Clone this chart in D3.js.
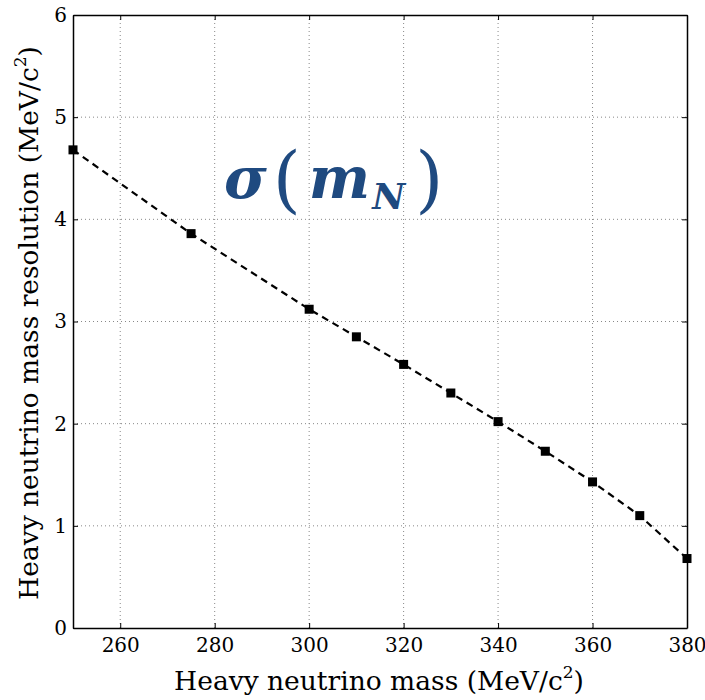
<!DOCTYPE html>
<html><head><meta charset="utf-8">
<script src="https://cdn.jsdelivr.net/npm/d3@7"></script>
<style>body{margin:0;background:#fff}</style>
</head><body>
<script>
const masses = [250, 275, 300, 310, 320, 330, 340, 350, 360, 370, 380];
const resolution = [4.68, 3.86, 3.12, 2.85, 2.58, 2.30, 2.02, 1.73, 1.43, 1.10, 0.68];
const xTicks = [260, 280, 300, 320, 340, 360, 380];
const yTicks = [0, 1, 2, 3, 4, 5, 6];
const xLabel = "Heavy neutrino mass (MeV/c";
const yLabel = "Heavy neutrino mass resolution (MeV/c";

const W = 705, H = 700;
const m = {left: 73, right: 18, top: 15, bottom: 72};
const svg = d3.select("body").append("svg").attr("width", W).attr("height", H);
const x = d3.scaleLinear().domain([250, 380]).range([m.left, W - m.right]);
const y = d3.scaleLinear().domain([0, 6]).range([H - m.bottom, m.top]);
const font = "DejaVu Serif";

// grid
svg.append("g").selectAll("line").data(xTicks.filter(t => t > 250 && t < 380)).join("line")
  .attr("x1", d => x(d)).attr("x2", d => x(d)).attr("y1", y(0)).attr("y2", y(6))
  .attr("stroke", "#888").attr("stroke-width", 1).attr("stroke-dasharray", "1,3");
svg.append("g").selectAll("line").data(yTicks.filter(t => t > 0 && t < 6)).join("line")
  .attr("y1", d => y(d)).attr("y2", d => y(d)).attr("x1", x(250)).attr("x2", x(380))
  .attr("stroke", "#888").attr("stroke-width", 1).attr("stroke-dasharray", "1,3");

// axes
const gx = svg.append("g").attr("transform", `translate(0,${y(0)})`)
  .call(d3.axisBottom(x).tickValues(xTicks).tickSizeInner(-5).tickSizeOuter(0).tickPadding(10).tickFormat(d3.format("d")));
const gy = svg.append("g").attr("transform", `translate(${x(250)},0)`)
  .call(d3.axisLeft(y).tickValues(yTicks).tickSizeInner(-5).tickSizeOuter(0).tickPadding(10).tickFormat(d3.format("d")));
const gx2 = svg.append("g").attr("transform", `translate(0,${y(6)})`)
  .call(d3.axisTop(x).tickValues(xTicks).tickSizeInner(-5).tickSizeOuter(0).tickFormat(""));
const gy2 = svg.append("g").attr("transform", `translate(${x(380)},0)`)
  .call(d3.axisRight(y).tickValues(yTicks).tickSizeInner(-5).tickSizeOuter(0).tickFormat(""));
[gx, gy, gx2, gy2].forEach(g => {
  g.select(".domain").attr("stroke", "#000").attr("stroke-width", 1.5);
  g.selectAll(".tick line").attr("stroke", "#000");
  g.selectAll("text").attr("font-family", font).attr("font-size", 20).attr("fill", "#000");
});
gy.selectAll(".tick text").attr("dx", 4);

// line + markers
const line = d3.line().x((d, i) => x(masses[i])).y(d => y(d));
svg.append("path").datum(resolution).attr("d", line)
  .attr("fill", "none").attr("stroke", "#000").attr("stroke-width", 2.2).attr("stroke-dasharray", "7,5");
svg.append("g").selectAll("rect").data(resolution).join("rect")
  .attr("x", (d, i) => x(masses[i]) - 4.5).attr("y", d => y(d) - 4.5)
  .attr("width", 9).attr("height", 9).attr("fill", "#000");

// axis labels
const xl = svg.append("text").attr("x", 379).attr("y", 690)
  .attr("text-anchor", "middle").attr("font-family", font).attr("font-size", 26.5).attr("fill", "#000");
xl.append("tspan").text(xLabel);
xl.append("tspan").text("2").attr("font-size", 17).attr("dy", -12);
xl.append("tspan").text(")").attr("dy", 12);

const yl = svg.append("text").attr("transform", `translate(38,323) rotate(-90)`)
  .attr("text-anchor", "middle").attr("font-family", font).attr("font-size", 26.5).attr("fill", "#000");
yl.append("tspan").text(yLabel);
yl.append("tspan").text("2").attr("font-size", 17).attr("dy", -12);
yl.append("tspan").text(")").attr("dy", 12);

// annotation
const ann = svg.append("text").attr("x", 224).attr("y", 198)
  .attr("font-family", font).attr("font-size", 58).attr("fill", "#1f4a80");
ann.append("tspan").text("σ").attr("font-weight", "bold").attr("font-style", "italic");
ann.append("tspan").text("(").attr("font-size", 72).attr("font-weight", "normal").attr("font-style", "normal").attr("dx", 6).attr("dy", 6);
ann.append("tspan").text("m").attr("font-weight", "bold").attr("font-style", "italic").attr("dx", 8).attr("dy", -6);
ann.append("tspan").text("N").attr("font-size", 36).attr("font-style", "italic").attr("font-weight", "bold").attr("dy", 11).attr("dx", 2);
ann.append("tspan").text(")").attr("font-size", 72).attr("font-weight", "normal").attr("font-style", "normal").attr("dy", -5).attr("dx", 10);
</script>
</body></html>
